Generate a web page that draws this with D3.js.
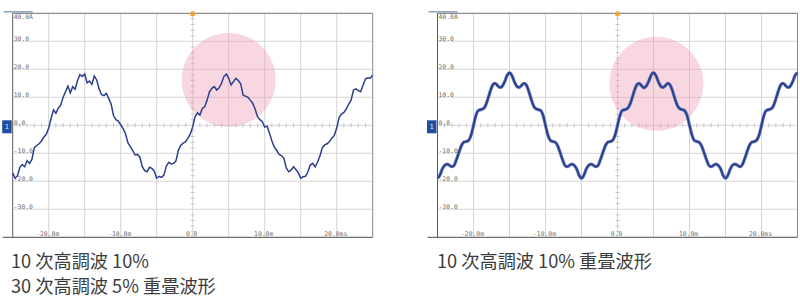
<!DOCTYPE html>
<html>
<head>
<meta charset="utf-8">
<script src="https://cdn.jsdelivr.net/npm/d3@7"></script>
<style>
  body { margin: 0; background: #fff; }
  svg { display: block; }
</style>
</head>
<body>
<svg id="chart" width="800" height="307"></svg>
<script>
// sample clock of the scope trace (ms)
const sampleStartMs = -25;
const sampleStepMs = 1 / 3;

const timeTicks = [-20, -10, 0, 10, 20];
const timeTickLabels = ['-20.0m', '-10.0m', '0.0', '10.0m', '20.0ms'];
const currentTicks = [40, 30, 20, 10, 0, -10, -20, -30];
const currentTickLabels = ['40.0A', '30.0', '20.0', '10.0', '0.0', '-10.0', '-20.0', '-30.0'];

// 10th 10% + 30th 5% (A)
const leftCurrent = [
  -17.0, -18.9, -18.0, -15.0, -14.0, -14.8, -12.6, -13.6, -12.2, -8.0, -7.2, -6.6, -5.6, -4.2, -3.2, -1.0,
  2.5, 5.5, 4.3, 6.1, 7.2, 10.0, 12.0, 14.0, 11.6, 13.8, 12.9, 16.0, 18.1, 17.4, 18.3, 15.2, 15.8, 14.6, 17.6, 16.2,
  13.0, 11.0, 10.6, 11.4, 9.6, 7.6, 3.5, 2.0, 1.5, 0.2,
  -1.2, -3.0, -6.2, -7.6, -9.0, -10.6, -10.4, -11.4, -14.8, -16.2, -16.6, -15.0, -15.4, -16.4, -18.9, -18.2,
  -18.6, -17.8, -14.6, -13.2, -13.8, -13.6, -12.8, -9.0, -7.2, -6.4, -5.9, -4.6, -3.2, -0.5,
  3.1, 4.4, 3.7, 6.0, 6.6, 9.0, 12.0, 13.2, 13.8, 12.6, 13.4, 15.0, 17.4, 18.3, 16.8, 14.4,
  15.6, 16.8, 16.0, 14.8, 10.8, 10.4, 10.0, 9.0, 7.9, 5.8, 3.1, 2.0, 1.3, -0.6,
  -0.3, -2.8, -5.6, -7.8, -9.0, -10.4, -10.8, -11.8, -15.2, -16.6, -16.0, -14.8, -15.8, -17.0, -18.9, -18.4,
  -18.2, -16.6, -14.2, -13.6, -14.8, -13.2, -11.0, -8.0, -7.0, -6.6, -5.8, -4.6, -3.6, -1.0,
  2.8, 4.0, 4.6, 5.8, 7.6, 9.0, 12.6, 13.0, 12.4, 12.0, 14.4, 16.6, 17.0, 16.8, 18.0
];

// 10th 10% only (A)
const rightCurrent = [
  -18.9, -17.8, -15.6, -14.3, -13.9, -14.3, -14.8, -14.2, -12.0, -9.5, -7.2, -6.0, -5.8, -5.4, -3.5, 0.0,
  3.5, 5.3, 5.6, 5.9, 7.0, 9.4, 12.2, 14.4, 15.0, 14.2, 13.5, 14.0, 15.6, 17.8, 18.8,
  17.8, 15.6, 14.0, 13.5, 14.2, 15.0, 14.4, 12.2, 9.4, 7.0, 5.9, 5.6, 5.3, 3.5, 0.0,
  -3.5, -5.4, -5.8, -6.0, -7.2, -9.5, -12.0, -14.2, -14.8, -14.3, -13.9, -14.3, -15.6, -17.8, -18.9,
  -17.8, -15.6, -14.3, -13.9, -14.3, -14.8, -14.2, -12.0, -9.5, -7.2, -6.0, -5.8, -5.4, -3.5, 0.0,
  3.4, 5.3, 5.6, 5.9, 7.1, 9.5, 12.3, 14.4, 15.0, 14.2, 13.4, 14.0, 15.7, 17.9, 18.8,
  17.8, 15.6, 14.0, 13.5, 14.2, 15.0, 14.3, 12.1, 9.3, 7.0, 5.9, 5.6, 5.2, 3.4, 0.0,
  -3.4, -5.4, -5.8, -6.1, -7.3, -9.6, -12.1, -14.2, -14.8, -14.3, -13.9, -14.3, -15.6, -17.9, -18.9,
  -17.8, -15.6, -14.2, -13.9, -14.3, -14.8, -14.1, -11.9, -9.4, -7.1, -6.0, -5.8, -5.3, -3.5, 0.0,
  3.5, 5.3, 5.6, 5.9, 7.0, 9.4, 12.2, 14.4, 15.0, 14.2, 13.5, 14.0, 15.6, 17.8, 18.8
];

const leftCaption = ['10 次高調波 10%', '30 次高調波 5% 重畳波形'];
const rightCaption = ['10 次高調波 10% 重畳波形'];

// pink highlight, centre in (ms, A)
const leftHighlight = { t: 5.0, a: 16.2 };
const rightHighlight = { t: 5.4, a: 14.8 };

const svg = d3.select('#chart');
const plotTop = 13.3;
const plotBottom = 237.3;
const plotWidth = 360;

function drawScope(left, values, highlight, smooth) {
  const g = svg.append('g');
  const x = d3.scaleLinear().domain([-25, 25]).range([left, left + plotWidth]);
  const y = d3.scaleLinear().domain([-40, 40]).range([plotBottom, plotTop]);

  // grid
  g.append('g').selectAll('line')
    .data(d3.range(-20, 21, 5))
    .join('line')
      .attr('x1', d => x(d)).attr('x2', d => x(d))
      .attr('y1', plotTop).attr('y2', plotBottom)
      .attr('stroke', '#d6d6d6').attr('stroke-width', 1);

  g.append('g').selectAll('line')
    .data(d3.range(-30, 31, 10))
    .join('line')
      .attr('x1', left).attr('x2', left + plotWidth)
      .attr('y1', d => y(d)).attr('y2', d => y(d))
      .attr('stroke', '#d6d6d6').attr('stroke-width', 1);

  // minor ticks on the centre axes
  g.append('g').selectAll('line')
    .data(d3.range(-38, 39, 2).filter(d => d % 10 !== 0))
    .join('line')
      .attr('x1', x(0) - 2).attr('x2', x(0) + 2)
      .attr('y1', d => y(d)).attr('y2', d => y(d))
      .attr('stroke', '#c4c4c4');

  g.append('g').selectAll('line')
    .data(d3.range(-24, 25, 1).filter(d => d % 5 !== 0))
    .join('line')
      .attr('x1', d => x(d)).attr('x2', d => x(d))
      .attr('y1', y(0) - 2).attr('y2', y(0) + 2)
      .attr('stroke', '#c4c4c4');

  // frame
  g.append('line').attr('x1', left).attr('x2', left + plotWidth)
    .attr('y1', plotTop).attr('y2', plotTop).attr('stroke', '#6e6e6e');
  g.append('line').attr('x1', left).attr('x2', left)
    .attr('y1', plotTop).attr('y2', plotBottom).attr('stroke', '#5a5a5a');
  g.append('line').attr('x1', left + plotWidth).attr('x2', left + plotWidth)
    .attr('y1', plotTop).attr('y2', plotBottom).attr('stroke', '#8c8c8c');
  g.append('line').attr('x1', left - 10).attr('x2', left + plotWidth)
    .attr('y1', plotBottom).attr('y2', plotBottom).attr('stroke', '#4a4a4a');

  // short trace bar above the frame
  g.append('line').attr('x1', left - 9).attr('x2', left + 20)
    .attr('y1', 11.8).attr('y2', 11.8)
    .attr('stroke', '#8797b5').attr('stroke-width', 1.4);

  // highlight
  g.append('circle')
    .attr('cx', x(highlight.t)).attr('cy', y(highlight.a)).attr('r', 47)
    .attr('fill', '#ee9ab5').attr('opacity', 0.4);

  // tick labels
  g.append('g').selectAll('text')
    .data(currentTicks)
    .join('text')
      .attr('x', left + 1)
      .attr('y', d => d === 40 ? y(d) + 5.6 : y(d) - 0.8)
      .attr('font-family', 'DejaVu Sans Mono')
      .attr('font-size', 6.4)
      .attr('fill', '#6f6f6f')
      .text((d, i) => currentTickLabels[i]);

  g.append('g').selectAll('text')
    .data(timeTicks)
    .join('text')
      .attr('x', d => x(d) - 1)
      .attr('y', plotBottom - 1)
      .attr('text-anchor', 'middle')
      .attr('font-family', 'DejaVu Sans Mono')
      .attr('font-size', 6.4)
      .attr('fill', '#6f6f6f')
      .text((d, i) => timeTickLabels[i]);

  // trace
  const line = d3.line()
    .x((d, i) => x(sampleStartMs + i * sampleStepMs))
    .y(d => y(d))
    .curve(smooth ? d3.curveMonotoneX : d3.curveLinear);

  if (smooth) {
    g.append('path').datum(values)
      .attr('fill', 'none').attr('stroke', '#5d72b6')
      .attr('stroke-width', 3.2).attr('d', line);
    g.append('path').datum(values)
      .attr('fill', 'none').attr('stroke', '#273d8a')
      .attr('stroke-width', 1.6).attr('d', line);
  } else {
    g.append('path').datum(values)
      .attr('fill', 'none').attr('stroke', '#2c3f8c')
      .attr('stroke-width', 1.5).attr('stroke-linejoin', 'miter')
      .attr('d', line);
  }

  // trigger marker and channel marker
  g.append('circle').attr('cx', x(0)).attr('cy', plotTop + 0.5).attr('r', 2.6)
    .attr('fill', '#f0a53c');
  g.append('rect').attr('x', left - 10.5).attr('y', y(0) - 5)
    .attr('width', 9.5).attr('height', 13).attr('fill', '#1f4f9e');
  g.append('text').attr('x', left - 5.7).attr('y', y(0) + 4)
    .attr('text-anchor', 'middle').attr('font-family', 'DejaVu Sans')
    .attr('font-size', 7).attr('fill', '#dfe8f7').text('1');

  return g;
}

drawScope(12.7, leftCurrent, leftHighlight, false);
drawScope(437.5, rightCurrent, rightHighlight, true);

function drawCaption(left, lines) {
  svg.append('g').selectAll('text')
    .data(lines)
    .join('text')
      .attr('x', left)
      .attr('y', (d, i) => 268 + i * 25.3)
      .attr('font-family', 'Noto Sans CJK JP')
      .attr('font-size', 18.2)
      .attr('fill', '#3c3c3c')
      .text(d => d);
}

drawCaption(11, leftCaption);
drawCaption(437, rightCaption);
</script>
</body>
</html>
